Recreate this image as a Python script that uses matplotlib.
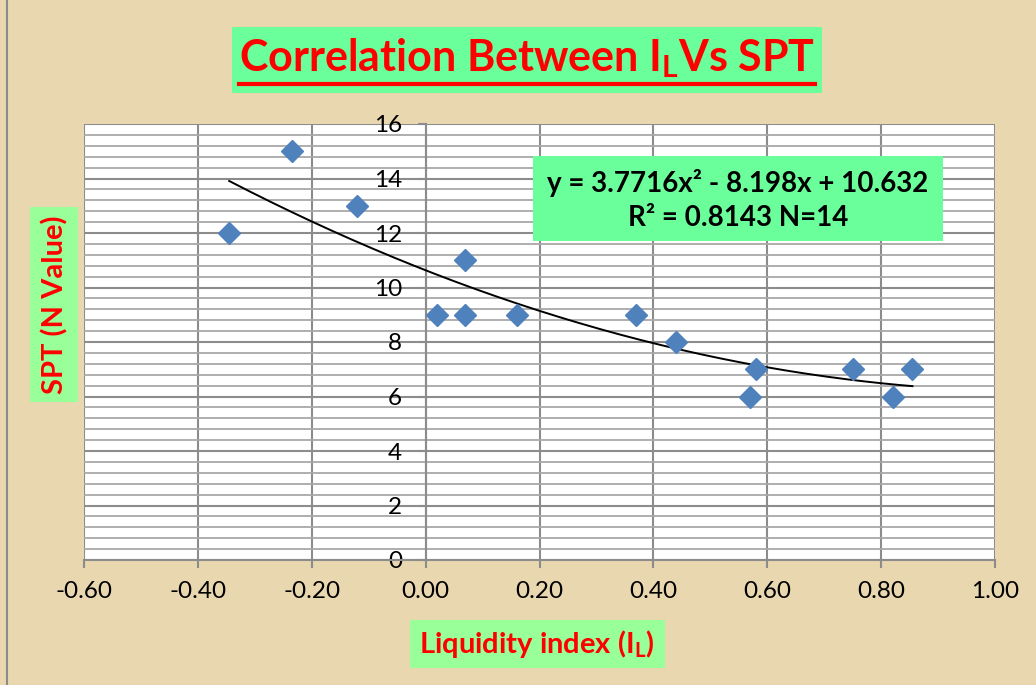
import numpy as np
import matplotlib.pyplot as plt
from matplotlib.patches import Rectangle
from matplotlib.lines import Line2D

# Дані з графіка
liquidity_index = [-0.345, -0.235, -0.12, 0.02, 0.07, 0.07, 0.16, 0.37, 0.44, 0.58, 0.57, 0.75, 0.82, 0.855]
spt_n = [12, 15, 13, 9, 11, 9, 9, 9, 8, 7, 6, 7, 6, 7]
trend_coef = [3.7716, -8.198, 10.632]  # поліном 2-го ступеня з підпису
x_ticks = [-0.6, -0.4, -0.2, 0.0, 0.2, 0.4, 0.6, 0.8, 1.0]
y_ticks = [0, 2, 4, 6, 8, 10, 12, 14, 16]

plt.rcParams['font.family'] = ['Lato', 'DejaVu Sans']
plt.rcParams['mathtext.fontset'] = 'custom'
plt.rcParams['mathtext.rm'] = 'Lato:bold'
plt.rcParams['mathtext.it'] = 'Lato:bold'
plt.rcParams['mathtext.bf'] = 'Lato:bold'

W, H = 1036, 685
fig = plt.figure(figsize=(W / 100, H / 100), dpi=100)
fig.patch.set_facecolor('#E9D7AF')


def fx(px):
    return px / W


def fy(py):
    return 1 - py / H


def box(x0, y0, x1, y1, color):
    fig.add_artist(Rectangle((fx(x0), fy(y1)), fx(x1) - fx(x0), fy(y0) - fy(y1),
                             transform=fig.transFigure, facecolor=color, edgecolor='none', zorder=2))


# ліва рамка
fig.add_artist(Line2D([fx(7), fx(7)], [0, 1], transform=fig.transFigure, color='#8C8C8C', lw=1.5))

ax = fig.add_axes([fx(84), fy(560), fx(995) - fx(84), fy(124) - fy(560)])
ax.set_facecolor('white')
ax.set_xlim(-0.6, 1.0)
ax.set_ylim(0, 16)
ax.set_xticks(x_ticks)
ax.set_xticklabels([f"{t:.2f}" for t in x_ticks])
ax.set_yticks(y_ticks)
ax.set_yticks(np.arange(0, 16.01, 0.4), minor=True)

ax.grid(True, which='major', axis='both', color='#8C8C8C', lw=1.5)
ax.grid(True, which='minor', axis='y', color='#A8A8A8', lw=1.3)
ax.set_axisbelow(True)

ax.spines['left'].set_position(('data', 0))
for s in ['top', 'right']:
    ax.spines[s].set_visible(False)
for s in ['left', 'bottom']:
    ax.spines[s].set_color('#8C8C8C')
    ax.spines[s].set_linewidth(1.5)
ax.tick_params(axis='both', which='major', color='#8C8C8C', width=1.5, length=6, labelsize=17.5)
ax.tick_params(axis='x', pad=9)
ax.tick_params(axis='y', pad=11)
ax.tick_params(which='minor', length=0)

xs = np.linspace(min(liquidity_index), max(liquidity_index), 200)
ax.plot(xs, np.polyval(trend_coef, xs), color='black', lw=1.4, zorder=3)
ax.plot(liquidity_index, spt_n, 'D', color='#4F81BD', markersize=11, zorder=4, clip_on=False)

# заголовок
box(232, 27, 822, 93, '#6AFF9A')
title = fig.text(fx(527), fy(58), r"Correlation Between I$_{\mathrm{L}}$Vs SPT", ha='center', va='center',
                 color='#FF0000', fontsize=31, fontweight='bold', zorder=3)
fig.canvas.draw()
bb = title.get_window_extent()
fig.add_artist(Line2D([bb.x0 / W, bb.x1 / W], [fy(84), fy(84)], transform=fig.transFigure,
                      color='#FF0000', lw=3, zorder=3))

# рівняння тренду
box(533, 156, 943, 241, '#6AFF9A')
fig.text(fx(738), fy(200), "y = 3.7716x² - 8.198x + 10.632\nR² = 0.8143 N=14", ha='center', va='center',
         color='black', fontsize=20, fontweight='bold', linespacing=1.38, zorder=3)

# підписи осей
box(30, 207, 78, 402, '#99FF99')
fig.text(fx(55), fy(305), "SPT (N Value)", rotation=90, ha='center', va='center',
         color='#FF0000', fontsize=21, fontweight='bold', zorder=3)
box(410, 620, 665, 668, '#99FF99')
fig.text(fx(537), fy(644), r"Liquidity index (I$_{\mathrm{L}}$)", ha='center', va='center',
         color='#FF0000', fontsize=21, fontweight='bold', zorder=3)

fig.savefig('out.png', dpi=100, facecolor=fig.get_facecolor())
